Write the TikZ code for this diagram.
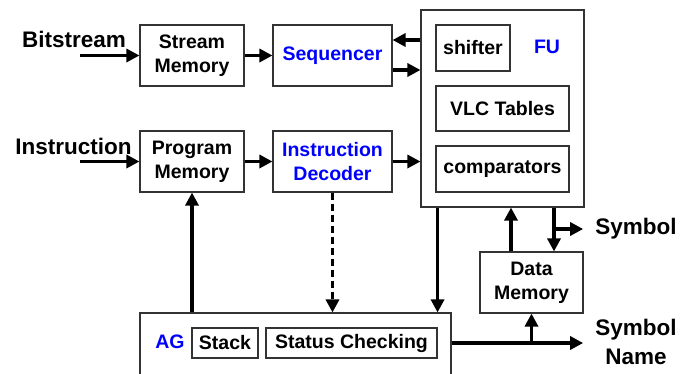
\documentclass[tikz,border=0pt]{standalone}
\usepackage{fontspec}
\setmainfont{Liberation Sans}
\usetikzlibrary{arrows.meta,calc}
\tikzset{
	blk/.style={draw=black!80, line width=1.1pt, inner sep=0pt, align=center, font=\bfseries\fontsize{19.5}{24}\selectfont},
	tag/.style={inner sep=0pt, text=blue, font=\bfseries\fontsize{19.5}{24}\selectfont},
	lbl/.style={inner sep=0pt, align=center, font=\bfseries\fontsize{22.5}{29}\selectfont},
	arr/.style={line width=3.2pt, -{Triangle[length=13pt,width=13pt]}},
}

\begin{document}
\begin{tikzpicture}[x=1pt,y=-1pt]
			%%%%% START %%%%%
			\useasboundingbox (0,0) rectangle (695,373);
			
			\node[blk, minimum width=104pt, minimum height=61pt] (smem) at (192,55.5) {Stream\\Memory};
			\node[blk, minimum width=119pt, minimum height=61pt] (seq) at (332.5,55.5) {\textcolor{blue}{Sequencer}};
			\node[blk, minimum width=104pt, minimum height=61pt] (pmem) at (192,161.5) {Program\\Memory};
			\node[blk, minimum width=119pt, minimum height=61pt, text=blue] (idec) at (332.5,161.5) {Instruction\\Decoder};
			
			\node[blk, minimum width=163pt, minimum height=197pt] (fu) at (502.5,108.5) {};
			\node[blk, minimum width=74pt, minimum height=46pt] (shft) at (473,48) {shifter};
			\node[tag] (fulbl) at (547,47) {FU};
			\node[blk, minimum width=133pt, minimum height=45pt] (vlc) at (502.5,108.5) {VLC Tables};
			\node[blk, minimum width=133pt, minimum height=46pt] (comp) at (502.5,169) {comparators};
			
			\node[blk, minimum width=311pt, minimum height=72pt] (ag) at (295.5,349) {};
			\node[tag] (aglbl) at (170,342) {AG};
			\node[blk, minimum width=66pt, minimum height=30pt] (stk) at (225,343) {Stack};
			\node[blk, minimum width=171pt, minimum height=30pt] (status) at (351.5,343) {Status Checking};
			
			\node[blk, minimum width=103pt, minimum height=61pt] (dmem) at (531.5,282.5) {Data\\Memory};
			
			\node[lbl] (bitlbl) at (74,39) {Bitstream};
			\node[lbl] (inslbl) at (73.5,146) {Instruction};
			\node[lbl] (sym) at (636,229) {Symbol};
			\node[lbl] (symname) at (636,342) {Symbol\\Name};
			
			\coordinate (bitin) at (80,55.5);
			\coordinate (insin) at (80,161.5);
			
			\draw[arr] (bitin) -- (smem.west);
			\draw[arr] (insin) -- (pmem.west);
			\draw[arr] (smem) -- (seq);
			\draw[arr] (pmem) -- (idec);
			\draw[arr] ($(seq.east -| fu.west)+(0,-15.5)$) -- ($(seq.east)+(0,-15.5)$);
			\draw[arr] ($(seq.east)+(0,14.5)$) -- ($(seq.east -| fu.west)+(0,14.5)$);
			\draw[arr] (idec.east) -- (idec.east -| fu.west);
			
			\draw[arr] (ag.north -| pmem.south) -- (pmem.south);
			\draw[arr, dash pattern=on 7pt off 4pt] (idec.south) -- (idec.south |- ag.north);
			\draw[arr] (fu.south -| status.east) -- (ag.north -| status.east);
			
			\draw[arr] ($(dmem.north)+(-20.5,0)$) -- ($(dmem.north |- fu.south)+(-20.5,0)$);
			\draw[arr] ($(dmem.north |- fu.south)+(22.5,0)$) -- ($(dmem.north)+(22.5,0)$);
			\coordinate (symj) at ($(dmem.north |- sym.west)+(22.5,0)$);
			\draw[arr] (symj) -- ($(sym.west)+(-12,0)$);
			
			\draw[arr] (status.east -| ag.east) -- ($(symname.west |- status.east)+(-12,0)$);
			\draw[arr] (status.east -| dmem.south) -- (dmem.south);
			
			%%%%% END %%%%%
\end{tikzpicture}
\end{document}
